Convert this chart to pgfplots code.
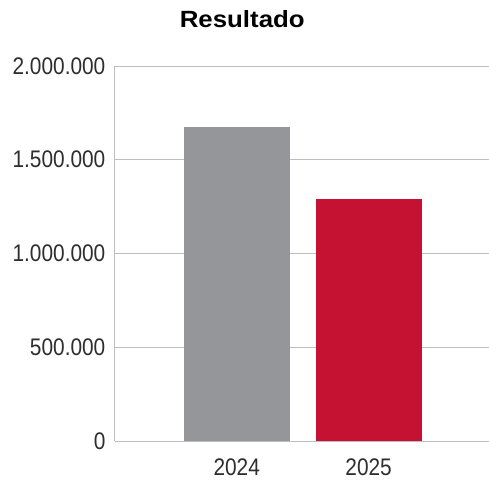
\documentclass[border=0pt]{standalone}
\usepackage{fontspec}
\setmainfont{Liberation Sans}
\newfontfamily\tickfont[FakeStretch=0.87]{Liberation Sans}
\newfontfamily\titlefont[FakeStretch=1.1]{Liberation Sans}
\usepackage{pgfplots}
\pgfplotsset{compat=1.18}
\definecolor{bargray}{HTML}{95969A}
\definecolor{barred}{HTML}{C61232}
\definecolor{gridgray}{HTML}{BEBEBE}
\definecolor{txt}{HTML}{2E2E2E}
\begin{document}
\begin{tikzpicture}[x=1pt,y=1pt]
\path (-115,-41.5) rectangle (374,441.5);
\begin{axis}[
  at={(0,0)}, anchor=south west,
  scale only axis,
  width=374pt, height=375.5pt,
  xmin=-0.924, xmax=1.909,
  ymin=0, ymax=2000000,
  xtick={0,1}, xticklabels={2024,2025},
  ytick={0,500000,1000000,1500000,2000000},
  yticklabels={0,500.000,1.000.000,1.500.000,2.000.000},
  ymajorgrids, major grid style={gridgray, line width=0.8pt},
  axis x line*=bottom, axis y line*=left,
  axis line style={gridgray, line width=1pt, -},
  tick style={draw=none},
  ticklabel style={font=\fontsize{24}{26}\selectfont\tickfont, text=txt},
  yticklabel style={xshift=-6pt},
  xticklabel style={yshift=-10pt},
  scaled y ticks=false,
  ybar, bar width=0.803, bar shift=0pt,
  clip=false,
]
\addplot[fill=bargray, draw=none] coordinates {(0,1675000)};
\addplot[fill=barred, draw=none] coordinates {(1,1290000)};
\end{axis}
\node[font=\fontsize{23.5}{26}\selectfont\titlefont\bfseries] at (127.5,422.5) {Resultado};
\end{tikzpicture}
\end{document}
